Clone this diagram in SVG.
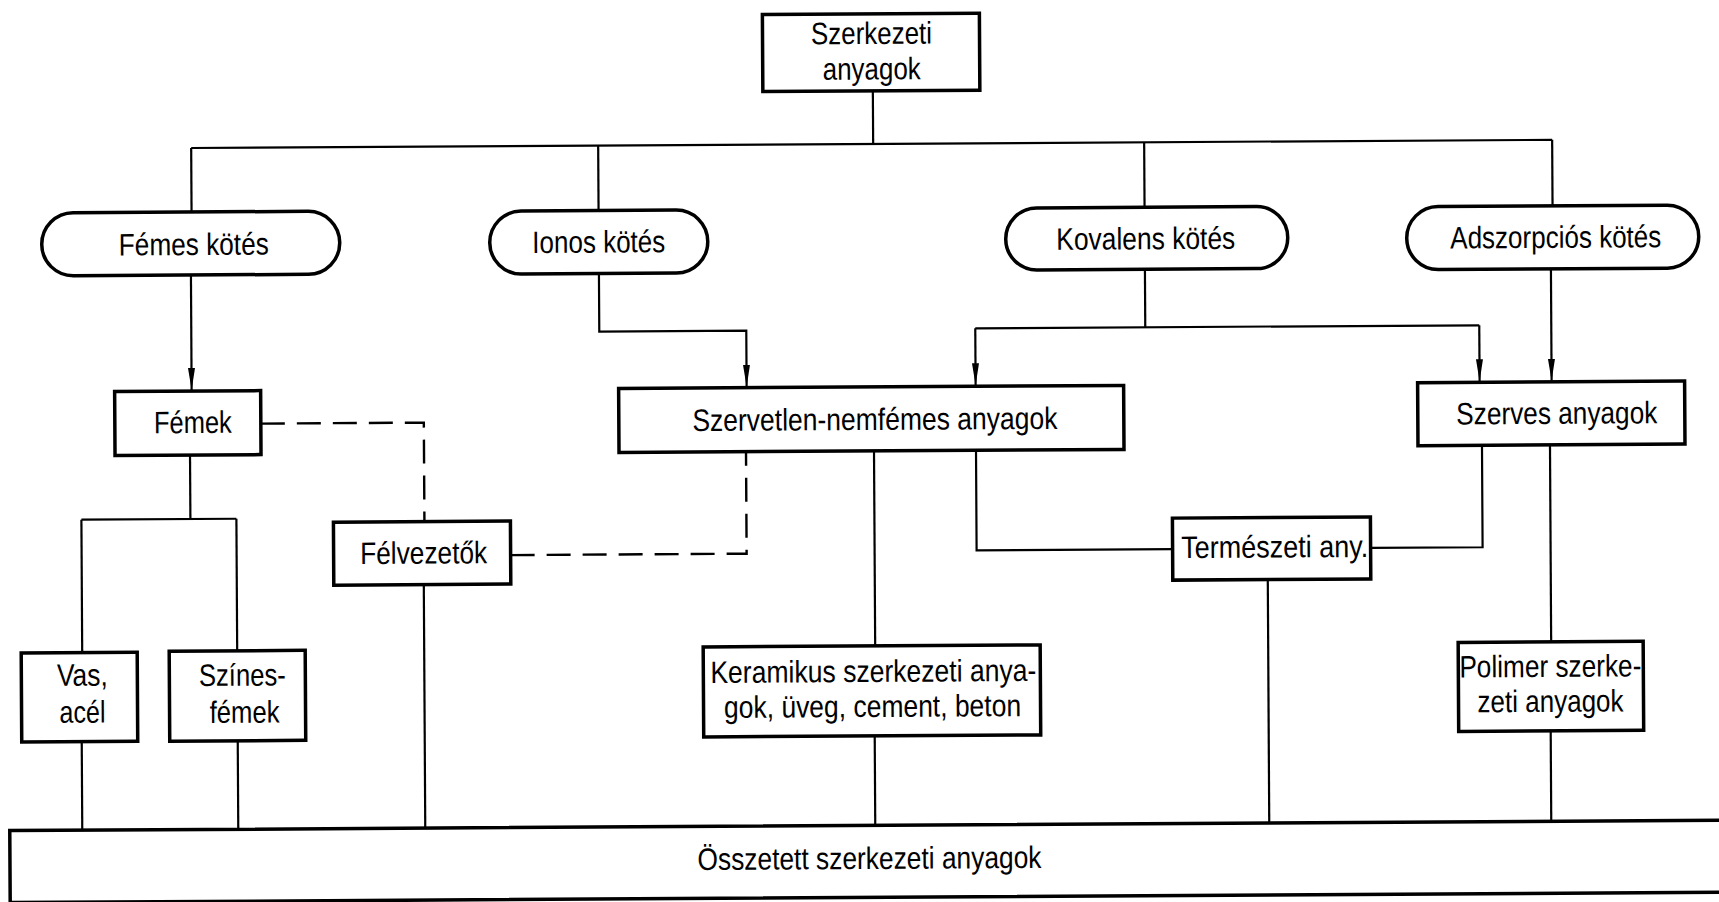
<svg xmlns="http://www.w3.org/2000/svg" width="1719" height="902" viewBox="0 0 1719 902">
<defs>
<style>
.box{fill:#fff;stroke:#000;stroke-width:3.5}
.ln{fill:none;stroke:#000;stroke-width:2.2}
.dash{fill:none;stroke:#000;stroke-width:2.4;stroke-dasharray:24 12}
text{font-family:"Liberation Sans",Arial,sans-serif;font-size:31px;fill:#000;text-anchor:middle}
</style>
<marker id="arr" viewBox="0 0 22 9" refX="22" refY="4.5" markerWidth="22" markerHeight="9" markerUnits="userSpaceOnUse" orient="auto">
<path d="M0,1 L22,4.5 L0,8 Z" fill="#000"/>
</marker>
</defs>
<rect x="0" y="0" width="1719" height="902" fill="#fff"/>
<g transform="rotate(-0.344 860 450)">
<g id="connectors">
<path class="ln" d="M875,91 V144"/>
<path class="ln" d="M193,144 H1554"/>
<path class="ln" d="M193,144 V208"/>
<path class="ln" d="M600,144 V209"/>
<path class="ln" d="M1146,144 V209"/>
<path class="ln" d="M1554,144 V210"/>
<path class="ln" d="M192,271 V386" marker-end="url(#arr)"/>
<path class="ln" d="M600,272 V330 H747 V386" marker-end="url(#arr)"/>
<path class="ln" d="M1146,271 V329"/>
<path class="ln" d="M976,329 H1480"/>
<path class="ln" d="M976,329 V386" marker-end="url(#arr)"/>
<path class="ln" d="M1480,329 V385" marker-end="url(#arr)"/>
<path class="ln" d="M1552,273 V385" marker-end="url(#arr)"/>
<path class="ln" d="M190,451 V515"/>
<path class="ln" d="M81,515 H236"/>
<path class="ln" d="M81,515 V648"/>
<path class="ln" d="M236,515 V647"/>
<path class="ln" d="M80,737 V826"/>
<path class="ln" d="M236,737 V826"/>
<path class="ln" d="M423,582 V826"/>
<path class="dash" d="M261,420 H424 V519"/>
<path class="dash" d="M510,553 H746 V451"/>
<path class="ln" d="M874,451 V646"/>
<path class="ln" d="M873,736 V826"/>
<path class="ln" d="M976,451 V551 H1172"/>
<path class="ln" d="M1482,449 V551 H1370"/>
<path class="ln" d="M1267,582 V826"/>
<path class="ln" d="M1550,449 V646"/>
<path class="ln" d="M1549,735 V826"/>
</g>
<g id="n_root">
<rect class="box" x="765" y="14" width="217" height="77"/>
<text x="874" y="44" textLength="121" lengthAdjust="spacingAndGlyphs">Szerkezeti</text>
<text x="874" y="79.5" textLength="98" lengthAdjust="spacingAndGlyphs">anyagok</text>
</g>
<g id="n_femes_kotes">
<rect class="box" x="43" y="208" width="298" height="63" rx="31.5"/>
<text x="195" y="251" textLength="150" lengthAdjust="spacingAndGlyphs">Fémes kötés</text>
</g>
<g id="n_ionos_kotes">
<rect class="box" x="491" y="209" width="218" height="63" rx="31.5"/>
<text x="600" y="251" textLength="133" lengthAdjust="spacingAndGlyphs">Ionos kötés</text>
</g>
<g id="n_kovalens_kotes">
<rect class="box" x="1007" y="209" width="282" height="62" rx="31"/>
<text x="1147" y="251" textLength="179" lengthAdjust="spacingAndGlyphs">Kovalens kötés</text>
</g>
<g id="n_adszorpcios_kotes">
<rect class="box" x="1408" y="210" width="292" height="63" rx="31.5"/>
<text x="1557" y="252" textLength="211" lengthAdjust="spacingAndGlyphs">Adszorpciós kötés</text>
</g>
<g id="n_femek">
<rect class="box" x="115" y="387" width="146" height="64"/>
<text x="193" y="429" textLength="78" lengthAdjust="spacingAndGlyphs">Fémek</text>
</g>
<g id="n_szervetlen">
<rect class="box" x="619" y="387" width="505" height="64"/>
<text x="875" y="430" textLength="365" lengthAdjust="spacingAndGlyphs">Szervetlen-nemfémes anyagok</text>
</g>
<g id="n_szerves">
<rect class="box" x="1418" y="386" width="267" height="63"/>
<text x="1557" y="428" textLength="201" lengthAdjust="spacingAndGlyphs">Szerves anyagok</text>
</g>
<g id="n_felvezetok">
<rect class="box" x="333" y="519" width="177" height="63"/>
<text x="423" y="561" textLength="127" lengthAdjust="spacingAndGlyphs">Félvezetők</text>
</g>
<g id="n_termeszeti">
<rect class="box" x="1172" y="520" width="198" height="62"/>
<text x="1274" y="560" textLength="187" lengthAdjust="spacingAndGlyphs">Természeti any.</text>
</g>
<g id="n_vas_acel">
<rect class="box" x="20" y="648" width="116" height="89"/>
<text x="81" y="681" textLength="51" lengthAdjust="spacingAndGlyphs">Vas,</text>
<text x="81" y="718" textLength="46" lengthAdjust="spacingAndGlyphs">acél</text>
</g>
<g id="n_szinesfemek">
<rect class="box" x="168" y="647" width="136" height="90"/>
<text x="241" y="682" textLength="87" lengthAdjust="spacingAndGlyphs">Színes-</text>
<text x="243" y="719" textLength="70" lengthAdjust="spacingAndGlyphs">fémek</text>
</g>
<g id="n_keramikus">
<rect class="box" x="702" y="646" width="337" height="90"/>
<text x="872" y="682" textLength="326" lengthAdjust="spacingAndGlyphs">Keramikus szerkezeti anya-</text>
<text x="871" y="717" textLength="297" lengthAdjust="spacingAndGlyphs">gok, üveg, cement, beton</text>
</g>
<g id="n_polimer">
<rect class="box" x="1457" y="646" width="185" height="89"/>
<text x="1549" y="681" textLength="182" lengthAdjust="spacingAndGlyphs">Polimer szerke-</text>
<text x="1549" y="716" textLength="146" lengthAdjust="spacingAndGlyphs">zeti anyagok</text>
</g>
<g id="n_osszetett">
<rect class="box" x="7.5" y="825.5" width="1760" height="72"/>
<text x="867" y="869" textLength="344" lengthAdjust="spacingAndGlyphs">Összetett szerkezeti anyagok</text>
</g>
</g>
</svg>
